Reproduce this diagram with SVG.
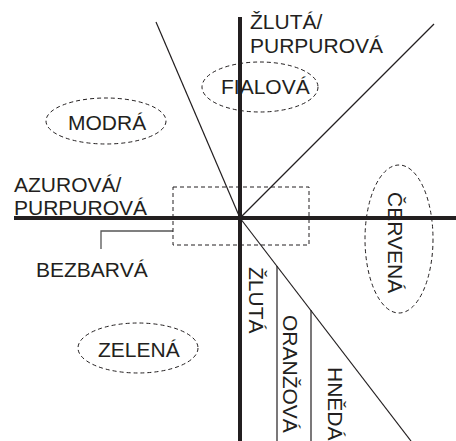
<svg xmlns="http://www.w3.org/2000/svg" width="456" height="441" viewBox="0 0 456 441">
<style>
text{font-family:"Liberation Sans",Arial,sans-serif;font-size:21px;fill:#231f20}
.axis{stroke:#231f20;stroke-width:4;fill:none}
.thin{stroke:#231f20;stroke-width:1.2;fill:none}
.dash{stroke:#231f20;stroke-width:1;stroke-dasharray:4 3;fill:none}
.lead{stroke:#555;stroke-width:1.3;fill:none}
</style>
<rect width="456" height="441" fill="#fff"/>
<g id="connectors">
<line class="thin" x1="156" y1="22" x2="240" y2="218"/>
<line class="thin" x1="240" y1="218" x2="434" y2="24"/>
<line class="thin" x1="240" y1="218" x2="411" y2="441"/>
<line class="thin" x1="277" y1="266" x2="277" y2="441"/>
<line class="thin" x1="311" y1="310" x2="311" y2="441"/>
<line class="axis" x1="240" y1="17" x2="240" y2="441"/>
<line class="axis" x1="14" y1="218" x2="456" y2="218"/>
<polyline class="lead" points="173,231 101,231 101,249"/>
</g>
<g id="zlutapurpurova"><text x="250" y="29">ŽLUTÁ/</text><text x="250" y="53">PURPUROVÁ</text></g>
<g id="azurovapurpurova"><text x="14" y="192">AZUROVÁ/</text><text x="14" y="215">PURPUROVÁ</text></g>
<g id="fialova"><ellipse class="dash" cx="260" cy="87" rx="58" ry="25"/><text x="221" y="94">FIALOVÁ</text></g>
<g id="modra"><ellipse class="dash" cx="106" cy="121" rx="60" ry="23"/><text x="68" y="130">MODRÁ</text></g>
<g id="zelena"><ellipse class="dash" cx="138" cy="348" rx="60" ry="25"/><text x="98" y="357">ZELENÁ</text></g>
<g id="cervena"><ellipse class="dash" cx="399" cy="239" rx="34" ry="74"/><text transform="translate(388,192) rotate(90)">ČERVENÁ</text></g>
<g id="bezbarva"><rect class="dash" x="173" y="187" width="136" height="58"/><text x="36" y="277">BEZBARVÁ</text></g>
<g id="zluta"><text transform="translate(249,267) rotate(90)">ŽLUTÁ</text></g>
<g id="oranzova"><text transform="translate(283,315) rotate(90)">ORANŽOVÁ</text></g>
<g id="hneda"><text transform="translate(328,367) rotate(90)">HNĚDÁ</text></g>
</svg>
